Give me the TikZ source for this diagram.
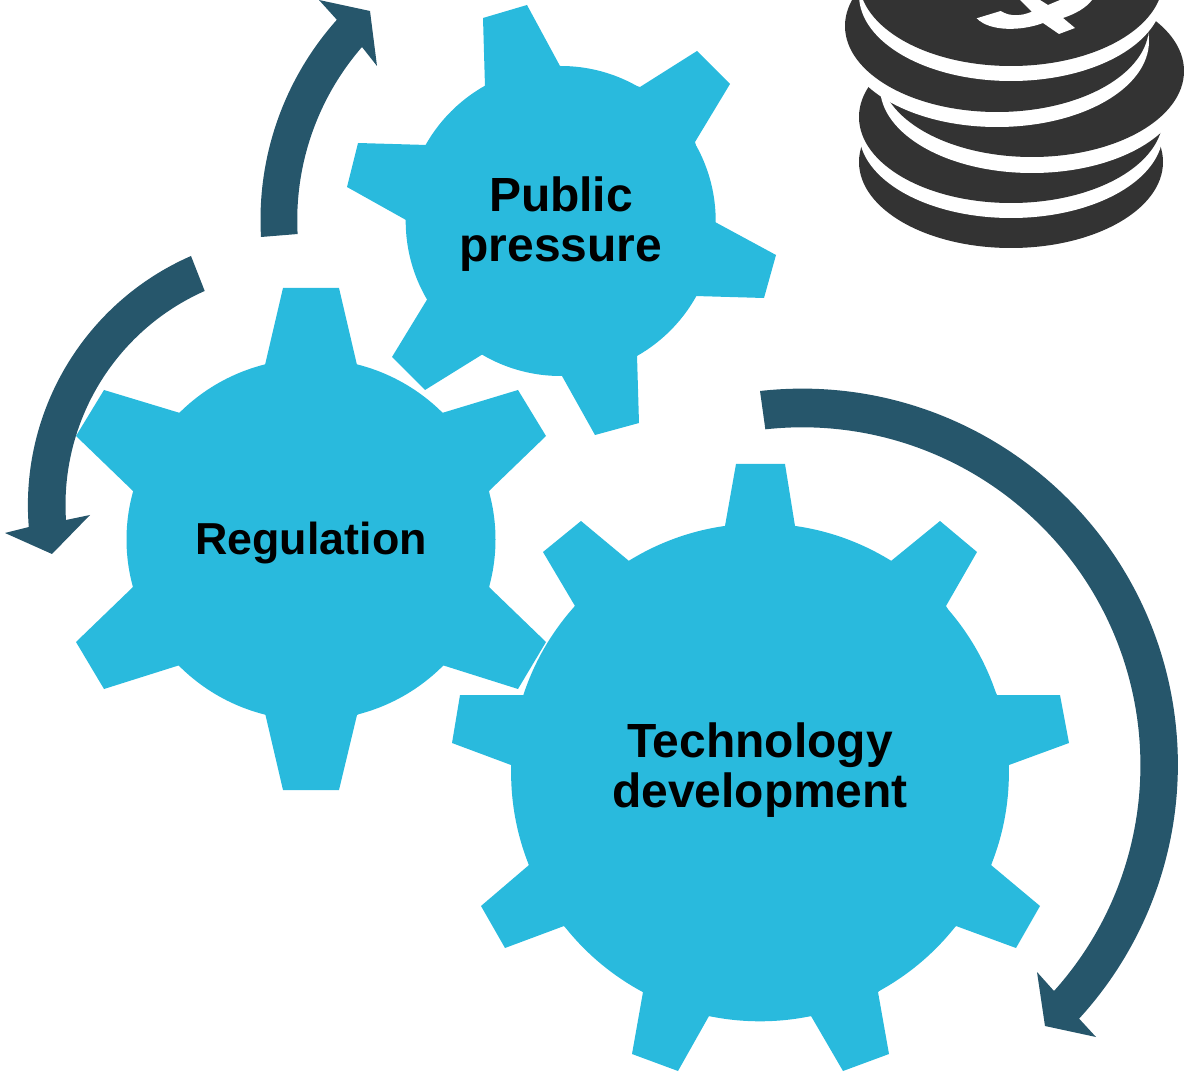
\documentclass[tikz,border=0pt]{standalone}
\usepackage{fontspec}
\setmainfont{Liberation Sans}
\definecolor{gearblue}{HTML}{29BADD}
\definecolor{arrowteal}{HTML}{26566B}
\definecolor{coindark}{HTML}{333333}
\newcommand{\gearfont}{\fontsize{27.3}{28.5}\selectfont\bfseries}
\tikzset{
    geartext/.style={align=center, text=black, font=\gearfont},
    coin/.style={fill=coindark, x radius=152, y radius=86},
    coinhalo/.style={fill=white, x radius=152, y radius=86}
}

\begin{document}
\begin{tikzpicture}[x=0.02cm,y=-0.02cm]
\useasboundingbox (0,0) rectangle (1184,1074);
% roues
\fill[gearblue] (560.7,221) circle[radius=155];
\fill[gearblue] (483,18)--(527,5)--(560,66)--(640,87)--(697,51)--(730,84)--(695,142)--(715,222)--(776,255)--(764,298)--(695,296)--(637,355)--(639,423)--(595,435)--(562,376)--(483,354)--(425,390)--(392,357)--(428,298)--(406,220)--(347,187)--(358,143)--(427,145)--(485,87)--cycle;
\fill[gearblue] (311,539.5) ellipse[x radius=184.5, y radius=180.8];
\fill[gearblue] (283,288)--(339,288)--(357,365)--(442,413)--(518,390)--(546,436)--(489,491)--(489,587)--(546,642)--(518,689)--(442,665)--(357,715)--(339,790)--(283,790)--(265,713)--(180,665)--(104,689)--(76,642)--(133,587)--(133,491)--(76,436)--(104,390)--(180,413)--(265,365)--cycle;
\fill[gearblue] (760,772.4) circle[radius=248.9];
\fill[gearblue] (736,464)--(785,464)--(795,526)--(891,561)--(940,521)--(977,552)--(946,606)--(997,695)--(1060,695)--(1069,743)--(1009,765)--(991,865)--(1040,906)--(1016,948)--(956,926)--(878,992)--(889,1054)--(843,1071)--(811,1016)--(709,1016)--(678,1071)--(632,1054)--(643,992)--(564,926)--(505,948)--(481,906)--(529,865)--(511,765)--(452,743)--(460,695)--(524,695)--(575,606)--(543,552)--(581,521)--(629,561)--(725,526)--cycle;
\node[geartext] (public) at (561,224) {Public\\pressure};
\node[geartext, font=\fontsize{25.5}{28}\selectfont\bfseries] (regulation) at (311,543) {Regulation};
\node[geartext] (technology) at (760,770) {Technology\\development};
% fleches
\fill[arrowteal] (261,237) arc[start angle=176.7, end angle=221.8, radius=300]
    --(319,0)--(370,11)--(377,66)--(362,47) arc[start angle=221, end angle=177, radius=264] --cycle;
\fill[arrowteal] (191,256) arc[start angle=246.4, end angle=175.4, radius=272]
    --(5,533)--(52,554)--(90,515)--(66,520) arc[start angle=176.3, end angle=246.1, radius=234] --cycle;
\fill[arrowteal] (760,391) arc[start angle=-96.4, end angle=42.5, radius=376]
    --(1096,1037)--(1045,1026)--(1037,972)--(1054,991) arc[start angle=41.9, end angle=-96.3, radius=338] --cycle;
% pieces
\begin{scope}
    \clip (0,0) rectangle (1184,1074);
    \fill[coin] (1011,162) ellipse[];
    \fill[coinhalo] (1011,132) ellipse[];
    \fill[coin] (1011,117) ellipse[];
    \fill[coinhalo] (1032,87) ellipse[];
    \fill[coin] (1032,71) ellipse[];
    \fill[coinhalo] (997,41) ellipse[];
    \fill[coin] (997,26) ellipse[];
    \fill[coinhalo] (1011,-5) ellipse[];
    \fill[coin] (1011,-20) ellipse[];
    % dollar
    \fill[white] (976.7,18.3)--(1000.7,11) .. controls (1010,17) and (1022,16) .. (1031.7,11.7)--(1020,0)--(1040,0)--(1048,5)--(1060,0)--(1092,0) .. controls (1086,8) and (1075,14) .. (1063,18)--(1075,28)--(1059,34)--(1043,23) .. controls (1022,31) and (990,32) .. (976.7,18.3)--cycle;
\end{scope}
\end{tikzpicture}
\end{document}
